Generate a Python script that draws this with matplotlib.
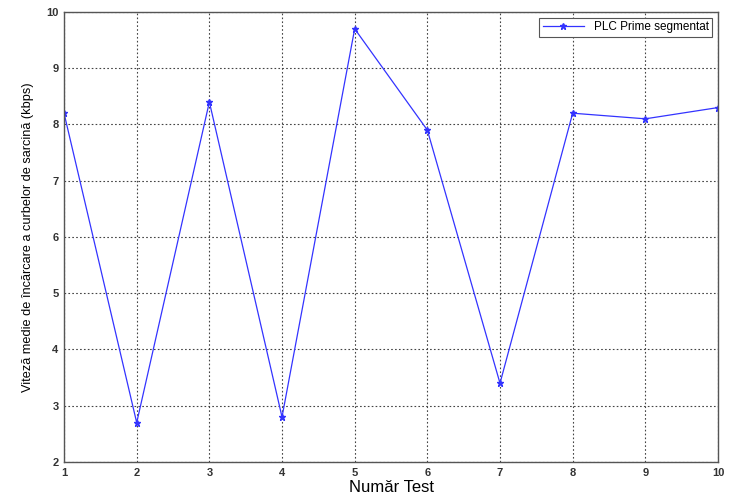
import matplotlib
matplotlib.use("Agg")
import matplotlib.pyplot as plt

# viteza medie per test
teste = [1, 2, 3, 4, 5, 6, 7, 8, 9, 10]
viteza = [8.2, 2.7, 8.4, 2.8, 9.7, 7.9, 3.4, 8.2, 8.1, 8.3]
eticheta = "PLC Prime segmentat"

plt.rcParams["font.family"] = ["Liberation Sans Narrow", "Liberation Sans", "DejaVu Sans"]

fig = plt.figure(figsize=(7.31, 4.97), dpi=100)
ax = fig.add_axes([0.0876, 0.0704, 0.8946, 0.9056])
ax.plot(teste, viteza, color="#3333ff", lw=0.9, marker="*", ms=4.5, label=eticheta)
ax.set_xlim(1, 10)
ax.set_ylim(2, 10)
ax.set_xticks(teste)
ax.set_yticks(range(2, 11))
ax.grid(True, ls=(0, (1.5, 2)), color="#444444", lw=0.8)
ax.tick_params(direction="in", length=0, labelsize=8, pad=4, colors="#333333")
for lab in ax.get_xticklabels() + ax.get_yticklabels():
    lab.set_fontweight("bold")
for s in ax.spines.values():
    s.set_color("#555555")
    s.set_linewidth(1.0)
ax.set_xlabel("Număr Test", fontsize=12, labelpad=2)
ax.set_ylabel("Viteză medie de încărcare a curbelor de sarcină (kbps)", fontsize=9.2, labelpad=9)
leg = ax.legend(loc="upper right", fontsize=8.5, fancybox=False, framealpha=1,
                edgecolor="#555555", borderpad=0.3, handlelength=3.5)
leg.get_frame().set_linewidth(0.8)
fig.savefig("out.png", dpi=100)
